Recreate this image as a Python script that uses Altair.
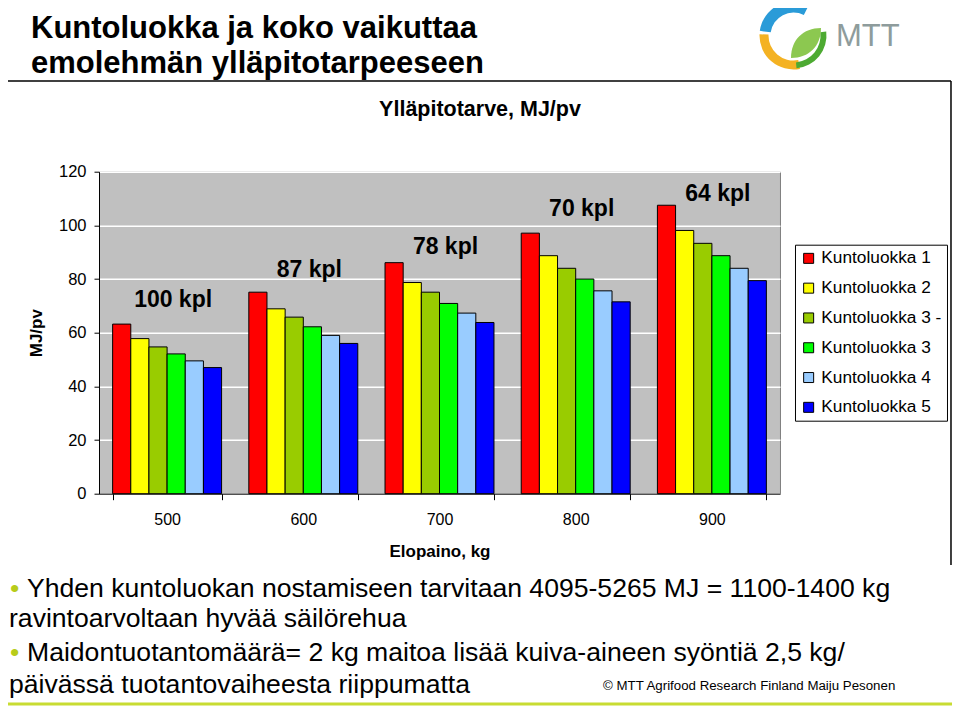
import altair as alt
import pandas as pd

# ---------------- data ----------------
weights = ["500", "600", "700", "800", "900"]
classes = ["Kuntoluokka 1", "Kuntoluokka 2", "Kuntoluokka 3 -",
           "Kuntoluokka 3", "Kuntoluokka 4", "Kuntoluokka 5"]
colors = ["#FF0000", "#FFFF00", "#99CC00", "#00FF00", "#99CCFF", "#0000FF"]

k1 = [63.2, 75.1, 86.1, 97.1, 107.5]
k2 = [57.8, 68.9, 78.7, 88.7, 98.1]
k3m = [54.7, 65.8, 75.1, 84.0, 93.3]
k3 = [52.1, 62.2, 70.9, 80.0, 88.7]
k4 = [49.5, 59.0, 67.3, 75.6, 84.0]
k5 = [47.0, 56.0, 63.8, 71.5, 79.4]

herd_labels = ["100 kpl", "87 kpl", "78 kpl", "70 kpl", "64 kpl"]
herd_label_y = [72.0, 83.3, 91.8, 106.0, 111.6]

main_title = ["Kuntoluokka ja koko vaikuttaa", "emolehmän ylläpitotarpeeseen"]
chart_title = "Ylläpitotarve, MJ/pv"
bullet_lines = [
    ("•", "Yhden kuntoluokan nostamiseen tarvitaan 4095-5265 MJ = 1100-1400 kg"),
    ("", "ravintoarvoltaan hyvää säilörehua"),
    ("•", "Maidontuotantomäärä= 2 kg maitoa lisää kuiva-aineen syöntiä 2,5 kg/"),
    ("", "päivässä tuotantovaiheesta riippumatta"),
]
copyright_text = "© MTT Agrifood Research Finland Maiju Pesonen"

series = [k1, k2, k3m, k3, k4, k5]
rows = []
for cls, vals in zip(classes, series):
    for w, v in zip(weights, vals):
        rows.append({"paino": w, "luokka": cls, "arvo": v})
df = pd.DataFrame(rows)
kdf = pd.DataFrame({"paino": weights, "label": herd_labels, "y": herd_label_y})

FONT = "Liberation Sans"
PW, PH = 681, 322
OX, OY = 99, 171.7  # page position of plot origin


def px(x):
    return x - OX


def py(y):
    return y - OY


one = pd.DataFrame({"a": [0]})

# ---------------- chart ----------------
xenc = alt.X("paino:N", sort=weights,
             scale=alt.Scale(paddingInner=0.2, paddingOuter=0.1),
             axis=alt.Axis(title="Elopaino, kg", labelAngle=0, labelFontSize=16,
                           labelFont=FONT, labelColor="black",
                           tickBand="extent", tickSize=6, tickColor="black",
                           domainColor="black", labelPadding=12,
                           titleFont=FONT, titleFontSize=17, titleFontWeight="bold",
                           titleColor="black", titleY=58, titleBaseline="middle",
                           grid=False))

bars = alt.Chart(df).mark_bar(stroke="black", strokeWidth=1).encode(
    x=xenc,
    xOffset=alt.XOffset("luokka:N", sort=classes,
                        scale=alt.Scale(domain=classes, paddingInner=0, paddingOuter=0)),
    y=alt.Y("arvo:Q", scale=alt.Scale(domain=[0, 120], nice=False),
            axis=alt.Axis(values=[0, 20, 40, 60, 80, 100, 120], title="MJ/pv",
                          titleFont=FONT, titleFontSize=17, titleFontWeight="bold",
                          titleColor="black", titleAngle=270, titleX=-63, titleY=161,
                          titleAlign="center", titleBaseline="middle",
                          labelFont=FONT, labelFontSize=16.5, labelColor="black",
                          labelPadding=8, tickSize=5, tickColor="black",
                          domainColor="black", gridColor="white", gridWidth=1.5)),
    color=alt.Color("luokka:N", sort=classes,
                    scale=alt.Scale(domain=classes, range=colors),
                    legend=alt.Legend(title=None, orient="none", legendX=696, legendY=73,
                                      direction="vertical", fillColor="white",
                                      strokeColor="black", padding=5,
                                      symbolType="square", symbolSize=100,
                                      symbolStrokeColor="black", symbolStrokeWidth=1,
                                      symbolOpacity=1, labelFont=FONT, labelFontSize=17.3,
                                      labelColor="black", rowPadding=11.8, labelOffset=4,
                                      labelLimit=300)),
)

herd = alt.Chart(kdf).mark_text(font=FONT, fontSize=23, fontWeight="bold",
                                color="black", dx=6).encode(
    x=alt.X("paino:N", sort=weights),
    y=alt.Y("y:Q"),
    text="label:N",
)


def label(text, x, y, size, weight="normal", color="black", align="left",
          baseline="middle", font=FONT, **kw):
    return alt.Chart(one).mark_text(text=text, font=font, fontSize=size,
                                    fontWeight=weight, color=color, align=align,
                                    baseline=baseline, **kw).encode(
        x=alt.value(px(x)), y=alt.value(py(y)))


def rule(x1, y1, x2, y2, color="black", width=1.5):
    return alt.Chart(one).mark_rule(color=color, strokeWidth=width).encode(
        x=alt.value(px(x1)), x2=alt.value(px(x2)),
        y=alt.value(py(y1)), y2=alt.value(py(y2)))


def arc(t1, t2, r1, r2, color):
    return alt.Chart(one).mark_arc(color=color).encode(
        x=alt.value(px(793.5)), y=alt.value(py(35.5)),
        theta=alt.value(t1), theta2=alt.value(t2),
        radius=alt.value(r1), radius2=alt.value(r2))


layers = [bars, herd]

# frame
layers += [rule(7, 81, 951, 81), rule(7, 81, 7, 565), rule(951, 81, 951, 565)]

# titles
layers += [label(main_title[0], 31, 38, 31, "bold", baseline="alphabetic"),
           label(main_title[1], 31, 73, 31, "bold", baseline="alphabetic"),
           label(chart_title, 480, 110, 21.5, "bold", align="center")]

# bullet text
line_y = [589, 619, 653, 685]
for (b, t), yy in zip(bullet_lines, line_y):
    if b:
        layers.append(label(b, 10, yy, 26.6, color="#B8CC1A"))
        layers.append(label(t, 27, yy, 26.6))
    else:
        layers.append(label(t, 9, yy, 26.6))
layers.append(label(copyright_text, 603, 686, 13.3))

# bottom line
layers.append(rule(0, 704, 960, 704, color="#C8DC32", width=3))

# logo
layers += [arc(4.85, 6.75, 34, 23, "#2A9BD8"),
           arc(2.95, 4.75, 34, 25, "#F4B223"),
           arc(1.45, 3.05, 33, 27, "#4DAA32")]
leaf = alt.Chart(one).mark_point(
    shape="M -1 1 C -1 -0.2 -0.2 -1 1 -1 C 1 0.2 0.2 1 -1 1 Z",
    filled=True, color="#8CC850", opacity=1, size=900).encode(
    x=alt.value(px(806)), y=alt.value(py(43)))
layers.append(leaf)
layers.append(label("MTT", 836, 46, 31, color="#8E9C9C", baseline="alphabetic"))

chart = alt.layer(*layers).properties(
    width=PW, height=PH,
    autosize=alt.AutoSizeParams(type="none"),
    padding={"left": 91, "top": 163.7, "right": 172, "bottom": 212},
    background="white",
).configure_view(fill="#C0C0C0", stroke="#808080", strokeWidth=1)

chart.save("out.html", embed_options={"renderer": "svg", "actions": False})
